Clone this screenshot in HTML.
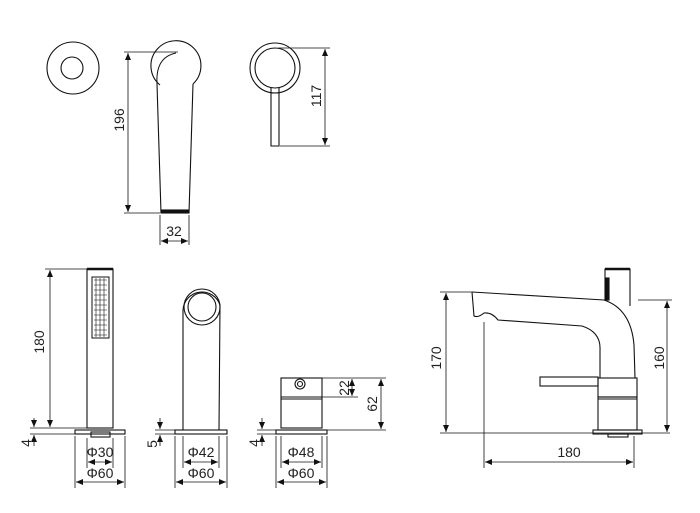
<!DOCTYPE html>
<html><head><style>body{margin:0;background:#fff}svg{display:block}text{font-family:"Liberation Sans",sans-serif;font-size:14px;fill:#222}</style></head><body>
<svg width="700" height="513" viewBox="0 0 700 513" xmlns="http://www.w3.org/2000/svg">
<defs><marker id="a" markerWidth="8" markerHeight="8" refX="7" refY="3" orient="auto-start-reverse" markerUnits="userSpaceOnUse"><path d="M0,0 L7,3 L0,6z" fill="#111"/></marker></defs>
<g fill="none" stroke="#111" stroke-width="1.1">
<circle cx="73" cy="68" r="26"/><circle cx="72" cy="68" r="11"/>
<path d="M160,85 A25,25 0 1 1 193,84"/>
<path d="M157,84 C156,66 162,56 176,53" stroke-width="1"/>
<path d="M157,84 L161,213 L189,213 L193,84"/>
<rect x="161" y="210" width="28" height="3" fill="#111"/>
<circle cx="275" cy="68" r="25"/><circle cx="275" cy="68" r="20"/>
<path d="M271,88 L271,146 L279,146 L279,88"/>
<rect x="87" y="269" width="26" height="159"/>
<line x1="87" y1="269" x2="113" y2="269" stroke-width="2.5"/>
<rect x="92" y="277" width="17" height="61" stroke-width="1"/>
<path d="M94,280h13M94,285h13M94,290h13M94,295h13M94,300h13M94,305h13M94,310h13M94,315h13M94,320h13M94,325h13M94,330h13M94,335h13M96,278v59M100,278v59M104,278v59" stroke-width="0.6"/>
<rect x="75" y="430" width="50" height="4"/>
<rect x="91" y="432" width="19" height="5"/>
<path d="M183,430 L183,310 A19,19 0 0 1 220,305 L219,430"/>
<circle cx="202" cy="307" r="18"/><circle cx="202" cy="307" r="14"/>
<rect x="175" y="430" width="52" height="4"/>
<rect x="281" y="378" width="41" height="50"/>
<line x1="281" y1="397" x2="322" y2="397"/><line x1="281" y1="399" x2="322" y2="399"/>
<circle cx="300" cy="384" r="5"/><circle cx="300" cy="384" r="2.5"/>
<rect x="276" y="430" width="51" height="4"/>
<path d="M605,300 L605,269 L630,269 L630,306"/>
<line x1="605" y1="269" x2="630" y2="269" stroke-width="2.5"/>
<rect x="606" y="278" width="3" height="22" fill="#111"/>
<path d="M472,292 L604,300 Q631,309 634,345 L635,378"/>
<path d="M472,292 L474,316 Q478,318 484,313 Q492,312 498,320 L582,326 Q601,332 600,350 L600,378"/>
<rect x="540" y="377" width="58" height="9"/>
<rect x="598" y="378" width="39" height="19"/>
<rect x="598" y="397" width="39" height="33"/>
<line x1="598" y1="399" x2="637" y2="399"/>
<rect x="593" y="430" width="49" height="4"/>
<rect x="608" y="434" width="20" height="3"/>
</g>
<g stroke="#111" stroke-width="0.8" fill="none">
<path d="M124,52H178 M124,213H160 M160,215V245 M189,215V245 M278,48H330 M280,146H330
M45,269H87 M30,428H87 M30,434H75 M75,436V488 M125,436V488 M87,438V468 M113,438V468
M155,430H183 M155,434H175 M175,436V488 M227,436V488 M183,436V468 M219,436V468
M257,430H276 M257,434H276 M276,436V488 M327,436V488 M281,436V468 M322,436V468
M322,378H386 M322,397H358 M327,430H386
M440,292H472 M440,433H670 M638,300H672 M484,322V468 M634,436V468"/>
</g>
<g stroke="#111" stroke-width="0.8">
<line x1="128" y1="53" x2="128" y2="212" marker-start="url(#a)" marker-end="url(#a)"/>
<line x1="161" y1="241" x2="188" y2="241" marker-start="url(#a)" marker-end="url(#a)"/>
<line x1="325" y1="49" x2="325" y2="145" marker-start="url(#a)" marker-end="url(#a)"/>
<line x1="50" y1="270" x2="50" y2="427" marker-start="url(#a)" marker-end="url(#a)"/>
<line x1="34" y1="418" x2="34" y2="427" marker-end="url(#a)"/><line x1="34" y1="446" x2="34" y2="435" marker-end="url(#a)"/>
<line x1="88" y1="462" x2="112" y2="462" marker-start="url(#a)" marker-end="url(#a)"/>
<line x1="76" y1="482" x2="124" y2="482" marker-start="url(#a)" marker-end="url(#a)"/>
<line x1="160" y1="418" x2="160" y2="429" marker-end="url(#a)"/><line x1="160" y1="446" x2="160" y2="435" marker-end="url(#a)"/>
<line x1="184" y1="462" x2="218" y2="462" marker-start="url(#a)" marker-end="url(#a)"/>
<line x1="176" y1="482" x2="226" y2="482" marker-start="url(#a)" marker-end="url(#a)"/>
<line x1="262" y1="418" x2="262" y2="429" marker-end="url(#a)"/><line x1="262" y1="446" x2="262" y2="435" marker-end="url(#a)"/>
<line x1="282" y1="462" x2="321" y2="462" marker-start="url(#a)" marker-end="url(#a)"/>
<line x1="277" y1="482" x2="326" y2="482" marker-start="url(#a)" marker-end="url(#a)"/>
<line x1="352" y1="379" x2="352" y2="396" marker-start="url(#a)" marker-end="url(#a)"/>
<line x1="381" y1="379" x2="381" y2="429" marker-start="url(#a)" marker-end="url(#a)"/>
<line x1="446" y1="293" x2="446" y2="432" marker-start="url(#a)" marker-end="url(#a)"/>
<line x1="667" y1="301" x2="667" y2="432" marker-start="url(#a)" marker-end="url(#a)"/>
<line x1="485" y1="462" x2="633" y2="462" marker-start="url(#a)" marker-end="url(#a)"/>
</g>
<text x="174" y="236" text-anchor="middle">32</text>
<text transform="translate(124,120) rotate(-90)" text-anchor="middle">196</text>
<text transform="translate(321,96) rotate(-90)" text-anchor="middle">117</text>
<text transform="translate(44,342) rotate(-90)" text-anchor="middle">180</text>
<text transform="translate(31,443) rotate(-90)" text-anchor="middle">4</text>
<text transform="translate(157,444) rotate(-90)" text-anchor="middle">5</text>
<text transform="translate(259,443) rotate(-90)" text-anchor="middle">4</text>
<text transform="translate(349,388) rotate(-90)" text-anchor="middle">22</text>
<text transform="translate(377,404) rotate(-90)" text-anchor="middle">62</text>
<text transform="translate(441,358) rotate(-90)" text-anchor="middle">170</text>
<text transform="translate(664,358) rotate(-90)" text-anchor="middle">160</text>
<text x="100" y="457" text-anchor="middle">Φ30</text>
<text x="100" y="478" text-anchor="middle">Φ60</text>
<text x="201" y="457" text-anchor="middle">Φ42</text>
<text x="201" y="478" text-anchor="middle">Φ60</text>
<text x="301" y="457" text-anchor="middle">Φ48</text>
<text x="301" y="478" text-anchor="middle">Φ60</text>
<text x="569" y="457" text-anchor="middle">180</text>
</svg>
</body></html>
